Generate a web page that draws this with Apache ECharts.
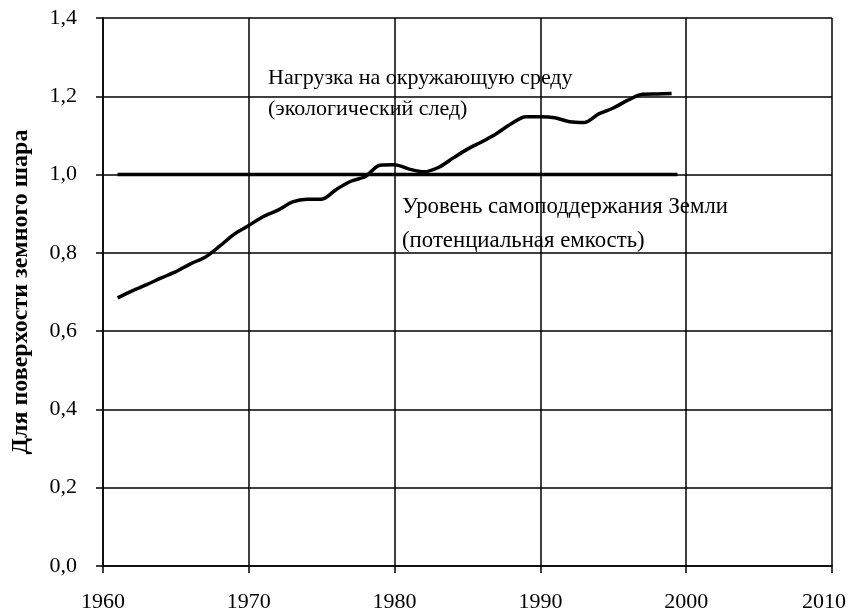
<!DOCTYPE html>
<html><head><meta charset="utf-8">
<script src="https://cdn.jsdelivr.net/npm/echarts@6/dist/echarts.min.js"></script>
<style>html,body{margin:0;padding:0;background:#fff}#c{width:850px;height:612px}</style>
</head><body><div id="c"></div>
<script>
const years = [1961,1962,1963,1964,1965,1966,1967,1968,1969,1970,1971,1972,1973,1974,1975,1976,1977,1978,1979,1980,1981,1982,1983,1984,1985,1986,1987,1988,1989,1990,1991,1992,1993,1994,1995,1996,1997,1998,1999];
const footprint = [0.685,0.703,0.719,0.736,0.752,0.772,0.789,0.817,0.848,0.870,0.893,0.909,0.930,0.937,0.937,0.962,0.983,0.995,1.024,1.025,1.014,1.007,1.018,1.042,1.065,1.084,1.105,1.130,1.148,1.148,1.145,1.135,1.133,1.155,1.170,1.190,1.205,1.206,1.207];
const capacityYears = [1961, 1999.4];
const capacityValues = [1.0, 1.0];
const xTicks = [1960,1970,1980,1990,2000,2010];
const yTicks = [0,0.2,0.4,0.6,0.8,1.0,1.2,1.4];
const yAxisTitle = 'Для поверхости земного шара';
const note1 = ['Нагрузка на окружающую среду','(экологический след)'];
const note2 = ['Уровень самоподдержания Земли','(потенциальная емкость)'];

const FONT = 'Liberation Serif';
const chart = echarts.init(document.getElementById('c'));
const lineStyleGrid = {color:'#000', width:1.5};
const lastX = xTicks[xTicks.length-1];
chart.setOption({
  animation:false,
  grid:{left:103, right:18, top:18, bottom:46, containLabel:false, outerBoundsMode:'none'},
  xAxis:{type:'value', min:xTicks[0], max:lastX, interval:10,
    axisLine:{show:true, lineStyle:lineStyleGrid, onZero:false},
    axisTick:{show:true, length:7, lineStyle:lineStyleGrid},
    splitLine:{show:true, lineStyle:lineStyleGrid},
    axisLabel:{fontFamily:FONT, fontSize:22, color:'#000', margin:25,
      formatter:v=> v===lastX ? '{last|'+v+'}' : String(v),
      rich:{last:{fontFamily:FONT, fontSize:22, color:'#000', padding:[0,16,0,0]}}}},
  yAxis:{type:'value', min:yTicks[0], max:yTicks[yTicks.length-1], interval:0.2,
    name:yAxisTitle, nameLocation:'middle', nameGap:70,
    nameTextStyle:{fontFamily:FONT, fontSize:24, fontWeight:'bold', color:'#000'},
    axisLine:{show:true, lineStyle:lineStyleGrid},
    axisTick:{show:true, length:7, lineStyle:lineStyleGrid},
    splitLine:{show:true, lineStyle:lineStyleGrid},
    axisLabel:{fontFamily:FONT, fontSize:22, color:'#000', margin:26,
      formatter:v=>v.toFixed(1).replace('.', ',')}},
  series:[
    {type:'line', data:capacityYears.map((y,i)=>[y,capacityValues[i]]), showSymbol:false,
      lineStyle:{color:'#000', width:3.5}, z:3},
    {type:'line', data:years.map((y,i)=>[y,footprint[i]]), showSymbol:false, smooth:0.3,
      lineStyle:{color:'#000', width:3.5}, z:4}
  ],
  graphic:[
    {type:'text', left:268, top:63, z:10, style:{text:note1.join('\n'), font:'22px '+FONT, lineHeight:31, fill:'#000'}},
    {type:'text', left:402, top:190, z:10, style:{text:note2.join('\n'), font:'22.8px '+FONT, lineHeight:34, fill:'#000'}}
  ]
});
</script></body></html>
